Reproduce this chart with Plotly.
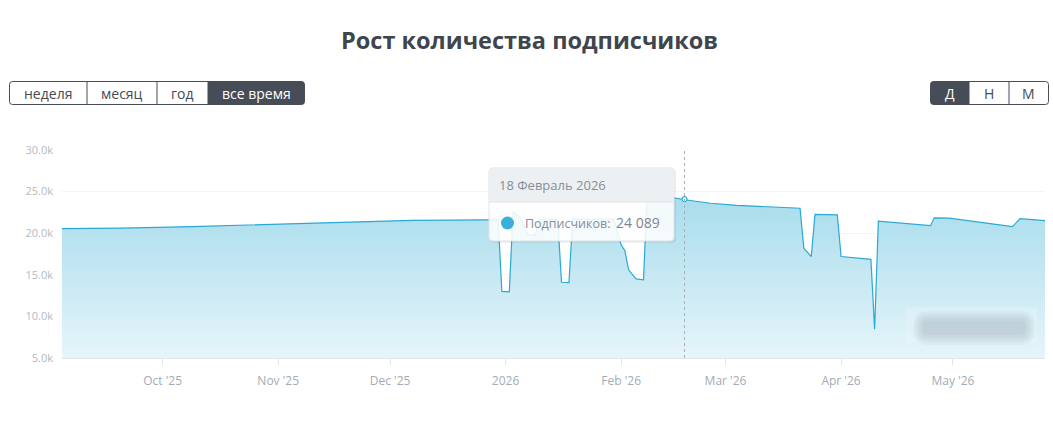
import plotly.graph_objects as go

# ---------------- data ----------------
dates = [
    "2025-09-03", "2025-09-20", "2025-10-09", "2025-10-20", "2025-11-04", "2025-11-22",
    "2025-12-07", "2025-12-27", "2025-12-30", "2025-12-31", "2026-01-02", "2026-01-03",
    "2026-01-05", "2026-01-07", "2026-01-09", "2026-01-10", "2026-01-15", "2026-01-16",
    "2026-01-18", "2026-01-19", "2026-01-30", "2026-02-01", "2026-02-02", "2026-02-03",
    "2026-02-04", "2026-02-05", "2026-02-07", "2026-02-08", "2026-02-10", "2026-02-14",
    "2026-02-18", "2026-02-20", "2026-02-25", "2026-03-04", "2026-03-21", "2026-03-22",
    "2026-03-24", "2026-03-25", "2026-03-31", "2026-04-01", "2026-04-09", "2026-04-10",
    "2026-04-11", "2026-04-25", "2026-04-26", "2026-04-30", "2026-05-17", "2026-05-19",
    "2026-05-26",
]
subscribers = [
    20550, 20600, 20800, 20950, 21150, 21350,
    21550, 21600, 21620, 13000, 12950, 22600,
    21800, 19800, 19800, 21600, 21650, 14100,
    14050, 21700, 21700, 18600, 17900, 15600,
    15000, 14500, 14400, 24900, 24600, 24300,
    24089, 23900, 23600, 23350, 23000, 18200,
    17200, 22250, 22200, 17200, 16850, 8450,
    21450, 20900, 21850, 21800, 20800, 21750,
    21500,
]
tick_dates = ["2025-10-01", "2025-11-01", "2025-12-01", "2026-01-01",
              "2026-02-01", "2026-03-01", "2026-04-01", "2026-05-01"]
tick_labels = ["Oct '25", "Nov '25", "Dec '25", "2026",
               "Feb '26", "Mar '26", "Apr '26", "May '26"]
y_ticks = [5000, 10000, 15000, 20000, 25000, 30000]
y_tick_labels = ["5.0k", "10.0k", "15.0k", "20.0k", "25.0k", "30.0k"]
period_buttons = ["неделя", "месяц", "год", "все время"]
group_buttons = ["Д", "Н", "М"]
title_text = "Рост количества подписчиков"
tooltip_date = "2026-02-18"
tooltip_title = "18 Февраль 2026"
tooltip_label = "Подписчиков:"
tooltip_value = 24089

# ---------------- layout helpers (pixel -> paper) ----------------
W, H = 1053, 421
ML, MR, MT, MB = 62, 8, 150, 63
PW = W - ML - MR
PH = H - MT - MB


def px(x):
    return (x - ML) / PW


def py(y):
    return (H - MB - y) / PH


def rrect_path(x0, x1, y0, y1, r):
    """Rounded rectangle path in paper coords from pixel box; r=(tl,tr,br,bl)."""
    tl, tr, br, bl = r

    def P(x, y):
        return f"{px(x):.6f},{py(y):.6f}"
    return (f"M {P(x0 + tl, y0)} L {P(x1 - tr, y0)} Q {P(x1, y0)} {P(x1, y0 + tr)} "
            f"L {P(x1, y1 - br)} Q {P(x1, y1)} {P(x1 - br, y1)} "
            f"L {P(x0 + bl, y1)} Q {P(x0, y1)} {P(x0, y1 - bl)} "
            f"L {P(x0, y0 + tl)} Q {P(x0, y0)} {P(x0 + tl, y0)} Z")


FONT = "Open Sans"
LINE_COLOR = "#2aa9d3"

fig = go.Figure()
fig.add_trace(go.Scatter(
    x=dates, y=subscribers, mode="lines",
    line=dict(color=LINE_COLOR, width=1.2),
    fill="tozeroy",
    fillgradient=dict(type="vertical", start=5000, stop=23000,
                      colorscale=[[0, "#e6f5fa"], [1, "#acdeed"]]),
    hoverinfo="skip", showlegend=False,
))

# hovered point marker
tv_idx = dates.index(tooltip_date)
fig.add_trace(go.Scatter(
    x=[dates[tv_idx]], y=[subscribers[tv_idx]], mode="markers",
    marker=dict(size=5, color="white", line=dict(color=LINE_COLOR, width=1.2)),
    hoverinfo="skip", showlegend=False,
))

shapes = []
annotations = []

# crosshair
shapes.append(dict(type="line", xref="x", yref="paper", x0=tooltip_date, x1=tooltip_date,
                   y0=0, y1=1, line=dict(color="#a9b0b6", width=1, dash="3px,3px"),
                   layer="above"))

# watermark (blurred)
shapes.append(dict(type="rect", xref="paper", yref="paper",
                   x0=px(906), x1=px(1037), y0=py(343), y1=py(307),
                   fillcolor="rgba(255,255,255,0.16)", line=dict(width=0), layer="above"))
for pad in [9, 7, 5, 3, 1, -1]:
    shapes.append(dict(type="path", xref="paper", yref="paper",
                       path=rrect_path(922 - pad, 1026 + pad, 320 - pad, 336 + pad,
                                       (6 + pad,) * 4 if pad > -1 else (5,) * 4),
                       fillcolor="rgba(140,160,170,0.07)", line=dict(width=0), layer="above"))

# tooltip
tx0, tx1, ty0, ty1, thead = 489, 674, 168, 241, 202
shapes.append(dict(type="path", xref="paper", yref="paper",
                   path=rrect_path(tx0 + 1, tx1 + 2, ty0 + 1, ty1 + 2, (4, 4, 4, 4)),
                   fillcolor="rgba(0,0,0,0.06)", line=dict(width=0), layer="above"))
shapes.append(dict(type="path", xref="paper", yref="paper",
                   path=rrect_path(tx0, tx1, ty0, ty1, (4, 4, 4, 4)),
                   fillcolor="rgba(255,255,255,0.88)", line=dict(color="#dfe3e6", width=1),
                   layer="above"))
shapes.append(dict(type="path", xref="paper", yref="paper",
                   path=rrect_path(tx0 + 0.5, tx1 - 0.5, ty0 + 0.5, thead, (4, 4, 0, 0)),
                   fillcolor="rgba(236,239,241,0.92)", line=dict(width=0),
                   layer="above"))
shapes.append(dict(type="line", xref="paper", yref="paper",
                   x0=px(tx0), x1=px(tx1), y0=py(thead), y1=py(thead),
                   line=dict(color="#dfe3e6", width=1), layer="above"))
shapes.append(dict(type="circle", xref="paper", yref="paper",
                   x0=px(501), x1=px(514), y0=py(229.5), y1=py(216.5),
                   fillcolor="#38b0d8", line=dict(width=0), layer="above"))
annotations.append(dict(xref="paper", yref="paper", x=px(497), y=py(185), text=tooltip_title,
                        showarrow=False, xanchor="left", yanchor="middle",
                        font=dict(family=FONT, size=13, color="#868f98")))
annotations.append(dict(xref="paper", yref="paper", x=px(523), y=py(223), text=tooltip_label,
                        showarrow=False, xanchor="left", yanchor="middle",
                        font=dict(family=FONT, size=12.5, color="#868f98")))
annotations.append(dict(xref="paper", yref="paper", x=px(662), y=py(222),
                        text=f"{tooltip_value:,}".replace(",", " "),
                        showarrow=False, xanchor="right", yanchor="middle",
                        font=dict(family=FONT, size=14, color="#7d868f")))

# title
annotations.append(dict(xref="paper", yref="paper", x=px(529), y=py(40), text=f"<b>{title_text}</b>",
                        showarrow=False, xanchor="center", yanchor="middle",
                        font=dict(family=FONT, size=23.5, color="#3e454d")))

# button groups
DARK = "#474d56"


def button_group(edges, labels, active):
    top, bot = 81.5, 104.5
    n = len(labels)
    for i, lab in enumerate(labels):
        x0, x1 = edges[i], edges[i + 1]
        is_act = (i == active)
        if is_act:
            rl = 3 if i == 0 else 0
            rr = 3 if i == n - 1 else 0
            shapes.append(dict(type="path", xref="paper", yref="paper",
                               path=rrect_path(x0, x1, top, bot, (rl, rr, rr, rl)),
                               fillcolor=DARK, line=dict(width=0), layer="above"))
        annotations.append(dict(xref="paper", yref="paper", x=px((x0 + x1) / 2), y=py(93),
                                text=lab, showarrow=False, xanchor="center", yanchor="middle",
                                font=dict(family=FONT, size=14,
                                          color="white" if is_act else "#454b53")))
    shapes.append(dict(type="path", xref="paper", yref="paper",
                       path=rrect_path(edges[0], edges[-1], top, bot, (3, 3, 3, 3)),
                       fillcolor="rgba(0,0,0,0)", line=dict(color=DARK, width=1), layer="above"))
    for e in edges[1:-1]:
        shapes.append(dict(type="line", xref="paper", yref="paper",
                           x0=px(e), x1=px(e), y0=py(bot), y1=py(top),
                           line=dict(color=DARK, width=1), layer="above"))


button_group([9.5, 87, 157, 208, 304.5], period_buttons, 3)
button_group([930.5, 969, 1009, 1048.5], group_buttons, 0)

fig.update_layout(
    width=W, height=H,
    margin=dict(l=ML, r=MR, t=MT, b=MB),
    paper_bgcolor="white", plot_bgcolor="white",
    shapes=shapes, annotations=annotations,
    hovermode=False,
    xaxis=dict(
        type="date", range=["2025-09-04", "2026-05-25 17:00"],
        tickvals=tick_dates, ticktext=tick_labels,
        showgrid=False, zeroline=False,
        showline=True, linecolor="#e3e6e9", linewidth=1,
        ticks="outside", ticklen=6, tickcolor="#e3e6e9",
        ticklabelstandoff=6,
        tickfont=dict(family=FONT, size=12, color="#a3acb5"),
    ),
    yaxis=dict(
        range=[5000, 30000],
        tickvals=y_ticks, ticktext=y_tick_labels,
        showgrid=True, gridcolor="#f3f4f5", gridwidth=1,
        zeroline=False, showline=False, ticks="",
        ticklabelstandoff=8,
        tickfont=dict(family=FONT, size=11, color="#b3bac1"),
    ),
)

fig.write_html("out.html", config={"displayModeBar": False},
               post_script="document.body.style.margin='0';document.body.style.overflow='hidden';")
